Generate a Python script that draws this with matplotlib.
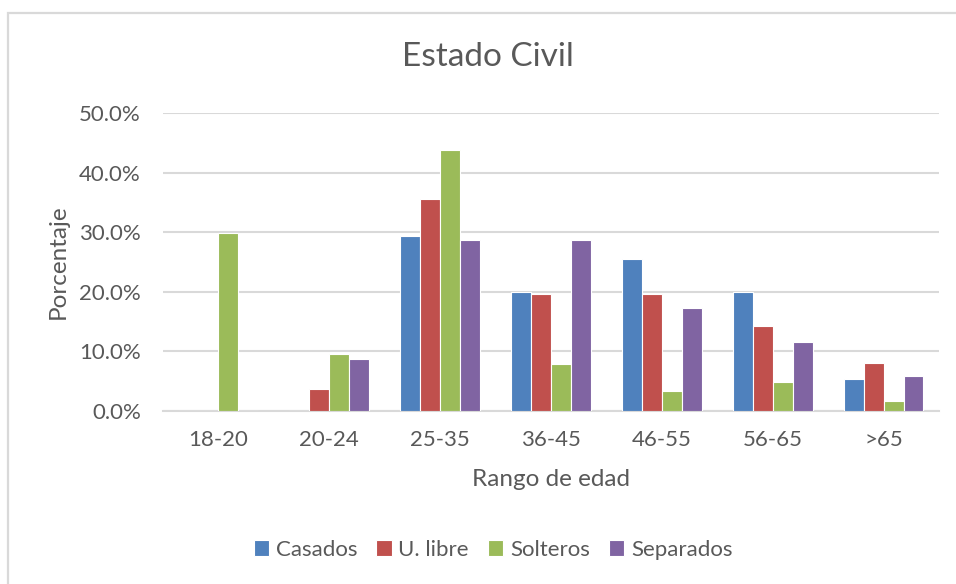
import matplotlib
matplotlib.use("Agg")
import matplotlib.pyplot as plt
import numpy as np
from matplotlib.patches import Rectangle

plt.rcParams['font.family'] = ['Lato', 'DejaVu Sans']

categories = ["18-20", "20-24", "25-35", "36-45", "46-55", "56-65", ">65"]
series_names = ["Casados", "U. libre", "Solteros", "Separados"]
casados = [0.0, 0.0, 29.4, 20.0, 25.4, 20.0, 5.4]
u_libre = [0.0, 3.6, 35.5, 19.6, 19.6, 14.2, 8.0]
solteros = [29.8, 9.5, 43.8, 7.9, 3.3, 4.8, 1.6]
separados = [0.0, 8.7, 28.6, 28.6, 17.2, 11.5, 5.8]
y_ticks = [0, 10, 20, 30, 40, 50]

colors = ["#4F81BD", "#C0504D", "#9BBB59", "#8064A2"]
text_color = "#595959"
grid_color = "#D9D9D9"

W, H = 956, 584
fig = plt.figure(figsize=(W / 100, H / 100), dpi=100)
ax_left, ax_right, ax_bottom, ax_top = 163, 939, 410.7, 113
ax = fig.add_axes([ax_left / W, 1 - ax_bottom / H,
                   (ax_right - ax_left) / W, (ax_bottom - ax_top) / H])

x = np.arange(len(categories))
width = 0.18
values = [casados, u_libre, solteros, separados]
for i, (name, vals, c) in enumerate(zip(series_names, values, colors)):
    ax.bar(x + (i - 1.5) * width, vals, width, color=c, edgecolor="white",
           linewidth=0.8, label=name, zorder=3)

ax.set_xlim(-0.5, len(categories) - 0.5)
ax.set_ylim(0, 50)
ax.set_yticks(y_ticks)
ax.set_yticklabels([f"{v:.1f}%" for v in y_ticks])
ax.set_xticks(x)
ax.set_xticklabels(categories)
ax.tick_params(length=0, labelsize=16, colors=text_color)
ax.tick_params(axis="y", pad=16)
ax.tick_params(axis="x", pad=14)
ax.yaxis.grid(True, color=grid_color, linewidth=1.5, zorder=0)
for s in ["top", "right", "left"]:
    ax.spines[s].set_visible(False)
ax.spines["bottom"].set_color(grid_color)
ax.spines["bottom"].set_linewidth(1.5)

ax_h = ax_bottom - ax_top
ax_w = ax_right - ax_left
ax.set_xlabel("Rango de edad", fontsize=17.5, color=text_color, va="center")
ax.xaxis.set_label_coords(0.5, (ax_bottom - 480) / ax_h)
ax.set_ylabel("Porcentaje", fontsize=17.5, color=text_color, va="center")
ax.yaxis.set_label_coords((58 - ax_left) / ax_w, 0.5)

fig.text(488 / W, 1 - 57 / H, "Estado Civil", fontsize=24, color=text_color,
         ha="center", va="center")

leg = fig.legend(loc="center", bbox_to_anchor=(493 / W, 1 - 550 / H), ncol=4,
                 frameon=False, fontsize=16, handlelength=0.7, handleheight=0.7,
                 handletextpad=0.3, columnspacing=0.85, labelcolor=text_color)

# chart area border (top and left edges visible)
fig.add_artist(Rectangle((8 / W, -0.1), 1.2, 1 - 13.5 / H + 0.1,
                         transform=fig.transFigure, fill=False,
                         edgecolor=grid_color, linewidth=1.6))

fig.savefig("out.png", dpi=100, facecolor="white")
